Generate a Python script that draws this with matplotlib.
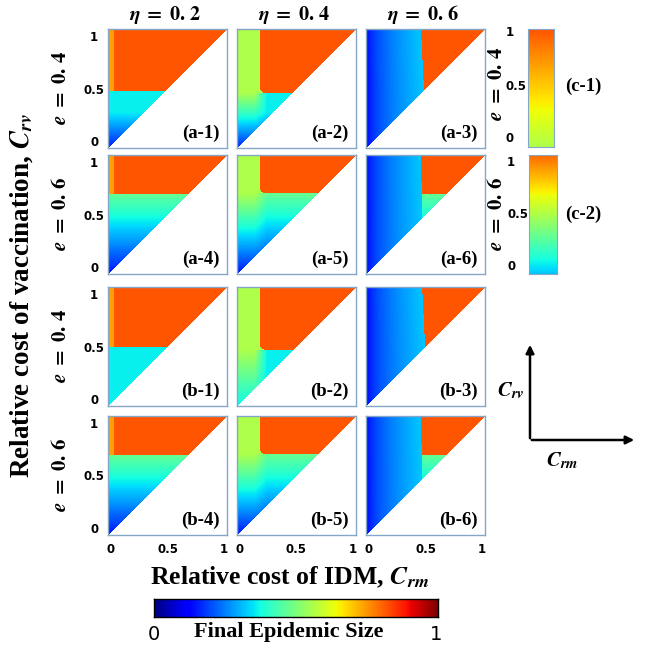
import numpy as np
import matplotlib
matplotlib.use('Agg')
import matplotlib.pyplot as plt
from matplotlib import colors

plt.rcParams['mathtext.fontset'] = 'stix'
plt.rcParams['font.family'] = ['Liberation Serif', 'DejaVu Serif']

# panel labels, row by row
panel_labels = ['(a-1)', '(a-2)', '(a-3)', '(a-4)', '(a-5)', '(a-6)',
                '(b-1)', '(b-2)', '(b-3)', '(b-4)', '(b-5)', '(b-6)']
eta_titles = ['0.\\,2', '0.\\,4', '0.\\,6']
row_e = ['0.\\,4', '0.\\,6', '0.\\,4', '0.\\,6']

# regions (Crm boundary of the left strip, Crv boundary of top region)
strip_crm = [0.05, 0.19, 0.46, 0.05, 0.19, 0.46, 0.05, 0.19, 0.47, 0.05, 0.19, 0.46]
strip_tilt = [0.0, 0.0, 0.05, 0.0, 0.0, 0.02, 0.0, 0.0, 0.05, 0.0, 0.0, 0.02]
top_crv = [0.48, 0.46, 0.0, 0.67, 0.68, 0.67, 0.49, 0.47, 0.0, 0.67, 0.68, 0.67]
# final epidemic size levels
top_level = 0.82
strip_level = [0.74, 0.56, None]
blue_left, blue_right = 0.10, 0.32
low_hi = [0.36, 0.36, 0.36, 0.47, 0.47, 0.47, 0.36, 0.36, 0.36, 0.47, 0.47, 0.47]
low_lo = [0.15, 0.15, 0.15, 0.14, 0.14, 0.14, 0.36, 0.36, 0.36, 0.14, 0.14, 0.14]
low_ramp = [0.30, 0.30, 0.30, 0.67, 0.67, 0.67, 0.30, 0.30, 0.30, 0.67, 0.67, 0.67]
strip_low_lo = [0.15, 0.15, 0.15, 0.14, 0.14, 0.14, 0.36, 0.36, 0.36, 0.14, 0.14, 0.14]

# colorbar ranges (c-1, c-2)
c1_range = (0.56, 0.82)
c2_range = (0.32, 0.80)

n = 240
g = (np.arange(n) + 0.5) / n
X, Y = np.meshgrid(g, g)


def panel_values(i):
    c = i % 3
    sx = strip_crm[i] + strip_tilt[i] * (1 - Y)
    ty = top_crv[i]
    low = low_lo[i] + (low_hi[i] - low_lo[i]) * np.clip(Y / low_ramp[i], 0, 1)
    Z = low.copy()
    top = (X > sx) & (Y > ty)
    if c == 1:
        r = 0.05
        corner = (X < sx + r) & (Y < ty + r)
        inside = (X - (sx + r)) ** 2 + (Y - (ty + r)) ** 2 < r ** 2
        top = top & (~corner | inside)
    if c == 0:
        Z = np.where((X <= sx) & (Y > ty), strip_level[0], Z)
    elif c == 1:
        sl = strip_low_lo[i] + (strip_level[1] - strip_low_lo[i]) * np.clip(Y / ty, 0, 1)
        w = np.clip((X - (sx - 0.04)) / 0.10, 0, 1)
        lower = sl * (1 - w) + low * w
        Z = np.where(Y > ty, strip_level[1], lower)
    else:
        blue = blue_left + (blue_right - blue_left) * np.sqrt(np.clip(X / sx, 0, 1))
        Z = np.where(X <= sx, blue, Z)
    Z = np.where(top, top_level, Z)
    return np.ma.masked_where(Y < X, Z)


cmap = plt.get_cmap('jet').copy()
cmap.set_bad('white')
frame_col = '#86a6c8'

fig = plt.figure(figsize=(6.5, 6.47), dpi=100)


def px(x0, y0, w, h):
    return [x0 / 650, 1 - (y0 + h) / 647, w / 650, h / 647]


col_left = [108, 237, 366]
row_top = [29, 155, 287, 416]
size = 119

for i in range(12):
    r, c = divmod(i, 3)
    ax = fig.add_axes(px(col_left[c], row_top[r], size, size))
    ax.imshow(panel_values(i), cmap=cmap, vmin=0, vmax=1, origin='lower',
              extent=[0, 1, 0, 1], interpolation='nearest', aspect='auto')
    ax.set_xlim(0, 1)
    ax.set_ylim(0, 1)
    for s in ax.spines.values():
        s.set_color(frame_col)
        s.set_linewidth(1.0)
    ax.tick_params(length=0, labelsize=8.5)
    if c == 0:
        ax.set_yticks([0.06, 0.5, 0.94])
        ax.set_yticklabels(['0', '0.5', '1'], fontfamily='DejaVu Sans',
                           fontweight='bold', ha='center')
        ax.tick_params(axis='y', pad=10)
    else:
        ax.set_yticks([])
    if r == 3:
        ax.set_xticks([0.02, 0.5, 0.97])
        ax.set_xticklabels(['0', '0.5', '1'], fontfamily='DejaVu Sans',
                           fontweight='bold')
        ax.tick_params(axis='x', pad=6)
    else:
        ax.set_xticks([])
    ax.text(0.94, 0.05, panel_labels[i], transform=ax.transAxes, ha='right',
            va='bottom', fontsize=13.5, fontweight='bold')

# small colorbars
for k, (rng, box) in enumerate([(c1_range, (528, 29, 26, 118)), (c2_range, (529, 155, 28, 119))]):
    cax = fig.add_axes(px(*box))
    grad = np.linspace(0, 1, 256).reshape(-1, 1)
    sub = colors.LinearSegmentedColormap.from_list(
        'sub%d' % k, plt.get_cmap('jet')(np.linspace(rng[0], rng[1], 256)))
    cax.imshow(grad, cmap=sub, origin='lower', aspect='auto', extent=[0, 1, 0, 1])
    cax.set_xticks([])
    cax.set_yticks([])
    for s in cax.spines.values():
        s.set_color(frame_col)

# bottom colorbar
bax = fig.add_axes(px(154, 599, 284, 18))
bax.imshow(np.linspace(0, 1, 256).reshape(1, -1), cmap='jet', aspect='auto',
           extent=[0, 1, 0, 1])
bax.set_xticks([])
bax.set_yticks([])
for s in bax.spines.values():
    s.set_color('black')
    s.set_linewidth(1.0)

# overlay for texts and arrows
ov = fig.add_axes([0, 0, 1, 1], zorder=-1)
ov.set_xlim(0, 650)
ov.set_ylim(647, 0)
ov.axis('off')

col_centers = [167, 296, 425]
for c in range(3):
    ov.text(col_centers[c] - 2, 15, r'$\mathbfit{\eta}\ \mathbf{=\ ' + eta_titles[c] + '}$',
            ha='center', va='center', fontsize=14.5)

row_centers = [88, 214, 346, 475]
for r in range(4):
    ov.text(62, row_centers[r], r'$\mathbfit{e}\ \mathbf{=\ ' + row_e[r] + '}$',
            ha='center', va='center', fontsize=15, rotation=90)

ov.text(22, 296, r'Relative cost of vaccination, $\mathbfit{C}_{\mathbfit{rv}}$',
        ha='center', va='center', rotation=90, fontsize=19.5, fontweight='bold')
ov.text(290, 577, r'Relative cost of IDM, $\mathbfit{C}_{\mathbfit{rm}}$',
        ha='center', va='center', fontsize=18.5, fontweight='bold')

# colorbar side labels
for k, yc in enumerate([84, 214]):
    ov.text(498, yc, r'$\mathbfit{e}\ \mathbf{=\ ' + ['0.\\,4', '0.\\,6'][k] + '}$',
            ha='center', va='center', fontsize=15, rotation=90)
    ov.text(583, [86, 214][k], ['(c-1)', '(c-2)'][k], ha='center', va='center',
            fontsize=13.5, fontweight='bold')
for yt, lab in zip([33, 86, 138], ['1', '0.5', '0']):
    ov.text(506, yt, lab, ha='left', va='center', fontsize=8.5,
            fontfamily='DejaVu Sans', fontweight='bold', zorder=5)
for yt, lab in zip([163, 215, 267], ['1', '0.5', '0']):
    ov.text(507, yt, lab, ha='left', va='center', fontsize=8.5,
            fontfamily='DejaVu Sans', fontweight='bold', zorder=5)

# bottom colorbar labels
ov.text(154, 634, '0', ha='center', va='center', fontsize=14, fontfamily='DejaVu Sans')
ov.text(436, 634, '1', ha='center', va='center', fontsize=14, fontfamily='DejaVu Sans')
ov.text(289, 632, 'Final Epidemic Size', ha='center', va='center',
        fontsize=16, fontweight='bold')

# axis direction sketch
ov.annotate('', xy=(530, 342), xytext=(530, 441),
            arrowprops=dict(arrowstyle='-|>', lw=1.8, color='black', mutation_scale=12))
ov.annotate('', xy=(637, 440), xytext=(529, 440),
            arrowprops=dict(arrowstyle='-|>', lw=1.8, color='black', mutation_scale=12))
ov.text(511, 391, r'$\mathbfit{C}_{\mathbfit{rv}}$', ha='center', va='center', fontsize=15)
ov.text(562, 461, r'$\mathbfit{C}_{\mathbfit{rm}}$', ha='center', va='center', fontsize=15)

fig.savefig('out.png', dpi=100)
